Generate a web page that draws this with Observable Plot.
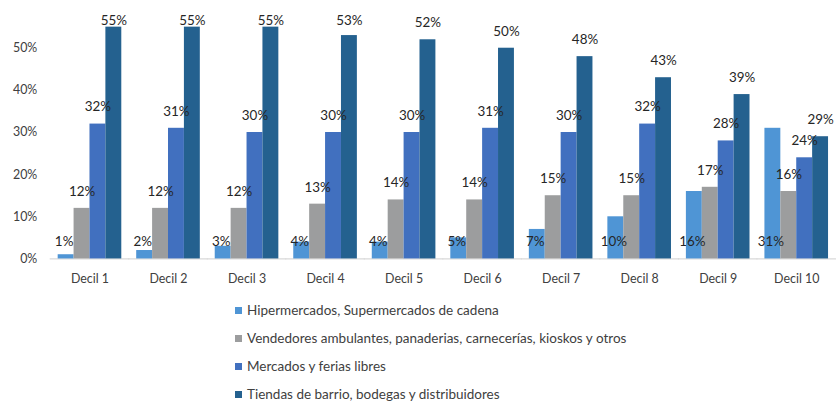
<!DOCTYPE html>
<html>
<head>
<meta charset="utf-8">
<script src="https://cdn.jsdelivr.net/npm/d3@7"></script>
<script src="https://cdn.jsdelivr.net/npm/@observablehq/plot@0.6"></script>
<style>
  html, body { margin: 0; padding: 0; background: #fff; overflow: hidden; width: 837px; height: 403px; }
  #chart svg { display: block; }
  .legend { font-family: Lato, "Open Sans", sans-serif; font-size: 13.5px; color: #404040; padding-left: 235px; padding-top: 8px; line-height: 1; }
  .legend .item { height: 28px; display: flex; align-items: center; white-space: nowrap; }
  .legend .sw { width: 7px; height: 7px; margin-right: 5px; flex: none; }
</style>
</head>
<body>
<div id="chart"></div>
<div class="legend" id="legend"></div>
<script>
const deciles = ["Decil 1", "Decil 2", "Decil 3", "Decil 4", "Decil 5", "Decil 6", "Decil 7", "Decil 8", "Decil 9", "Decil 10"];
const seriesNames = [
  "Hipermercados, Supermercados de cadena",
  "Vendedores ambulantes, panaderias, carnecerías, kioskos y otros",
  "Mercados y ferias libres",
  "Tiendas de barrio, bodegas y distribuidores"
];
const hiper = [1, 2, 3, 4, 4, 5, 7, 10, 16, 31];
const vendedores = [12, 12, 12, 13, 14, 14, 15, 15, 17, 16];
const mercados = [32, 31, 30, 30, 30, 31, 30, 32, 28, 24];
const tiendas = [55, 55, 55, 53, 52, 50, 48, 43, 39, 29];
const yTicks = [0, 0.1, 0.2, 0.3, 0.4, 0.5];
const colors = ["#4F95D5", "#9C9D9E", "#4170BF", "#24618F"];

const seriesValues = [hiper, vendedores, mercados, tiendas];
const data = [];
deciles.forEach((d, i) => {
  seriesNames.forEach((s, j) => {
    data.push({decil: d, serie: s, value: seriesValues[j][i] / 100});
  });
});
const pct = d => Math.round(d.value * 100) + "%";

const chart = Plot.plot({
  width: 842,
  height: 290,
  marginLeft: 48,
  marginRight: 0,
  marginTop: 5.6,
  marginBottom: 30,
  style: {fontFamily: "Lato, 'Open Sans', sans-serif", fontSize: "12.5px", color: "#404040", background: "#fff"},
  y: {domain: [0, 0.6], ticks: yTicks, tickFormat: d => Math.round(d * 100) + "%", tickSize: 0, tickPadding: 20, label: null},
  fx: {domain: deciles, paddingInner: 0.169, paddingOuter: 0.0845, label: null, tickSize: 0, tickPadding: 15},
  x: {domain: seriesNames, padding: 0, axis: null},
  color: {domain: seriesNames, range: colors},
  marks: [
    Plot.ruleY([0], {stroke: "#d9d9d9", strokeWidth: 1.2, insetLeft: -7, insetRight: -7}),
    Plot.barY(data, {fx: "decil", x: "serie", y: "value", fill: "serie"}),
    Plot.text(data.filter(d => d.serie === seriesNames[0]), {
      fx: "decil", x: "serie", y: () => 0,
      text: pct, dy: -17, dx: -2, fill: "#262626", fontSize: 13.5
    }),
    Plot.text(data.filter(d => d.serie !== seriesNames[0]), {
      fx: "decil", x: "serie",
      y: d => Math.min(d.value, 0.525),
      text: pct, dy: -17, fill: "#262626", fontSize: 13.5
    })
  ]
});
document.getElementById("chart").appendChild(chart);

const legend = document.getElementById("legend");
seriesNames.forEach((s, j) => {
  const item = document.createElement("div");
  item.className = "item";
  const sw = document.createElement("span");
  sw.className = "sw";
  sw.style.background = colors[j];
  const t = document.createElement("span");
  t.textContent = s;
  item.appendChild(sw);
  item.appendChild(t);
  legend.appendChild(item);
});
</script>
</body>
</html>
